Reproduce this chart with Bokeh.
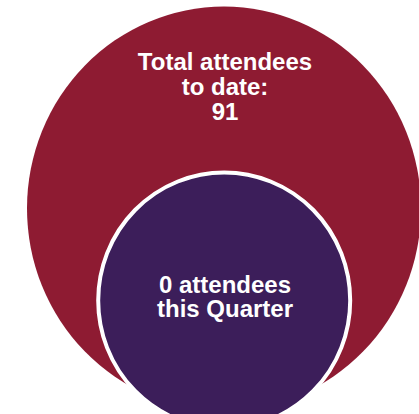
from bokeh.plotting import figure
from bokeh.models import Range1d, ColumnDataSource
from bokeh.core.properties import value
from bokeh.embed import file_html
from bokeh.resources import INLINE

# ---- data ----
total_attendees = 91
quarter_attendees = 0
total_label = ["Total attendees", "to date:"]
quarter_label = ["attendees", "this Quarter"]

# ---- layout (reference image coordinates, 419 x 414) ----
W, H = 419, 414
RED = "#8E1B32"
PURPLE = "#3C1E5A"
FONT = value("Liberation Sans")

p = figure(width=W, height=H, output_backend="svg", toolbar_location=None,
           x_range=Range1d(0, W), y_range=Range1d(H, 0),
           x_axis_location=None, y_axis_location=None, min_border=0,
           background_fill_color="white", border_fill_color="white")
p.outline_line_color = None
p.grid.visible = False

# outer (total) bubble
p.ellipse(x=[223.5], y=[208], width=[394], height=[404],
          fill_color=RED, line_color=None)
# inner (quarter) bubble with white rim
p.ellipse(x=[223.7], y=[300], width=[252], height=[256],
          fill_color=PURPLE, line_color="white", line_width=4)

total_lines = total_label + [str(total_attendees)]
total_src = ColumnDataSource(dict(x=[224.5] * 3, y=[60.5, 85.5, 110.5], t=total_lines))
p.text(x="x", y="y", text="t", source=total_src, text_align="center",
       text_baseline="alphabetic", text_color="white", text_font=FONT,
       text_font_style="bold", text_font_size="24px")

quarter_lines = [f"{quarter_attendees} {quarter_label[0]}", quarter_label[1]]
q_src = ColumnDataSource(dict(x=[224.5] * 2, y=[283.5, 308], t=quarter_lines))
p.text(x="x", y="y", text="t", source=q_src, text_align="center",
       text_baseline="alphabetic", text_color="white", text_font=FONT,
       text_font_style="bold", text_font_size="24px")

open("out.html", "w").write(file_html(p, INLINE))
